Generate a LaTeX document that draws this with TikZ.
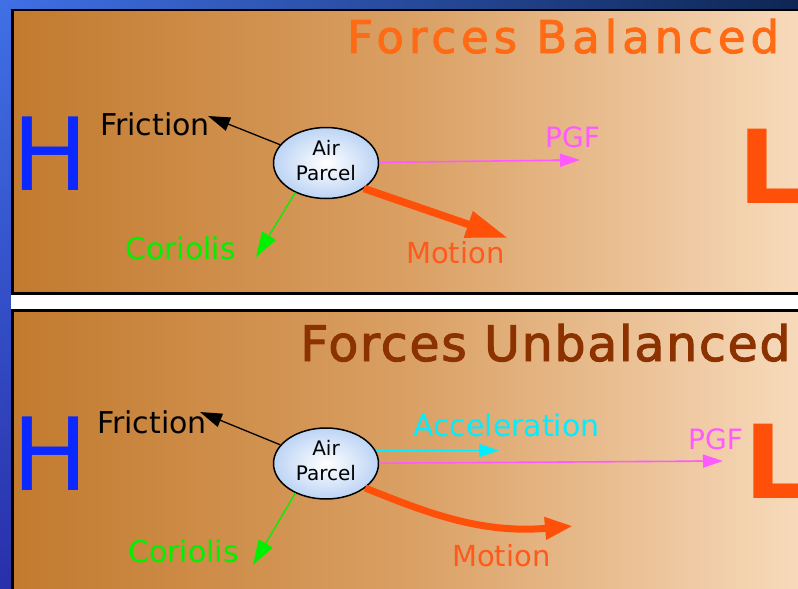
\documentclass[tikz,border=0pt]{standalone}
\usepackage{fontspec}
\setmainfont{DejaVu Sans}
\newfontfamily\titlefontA[LetterSpace=11,FakeBold=2]{DejaVu Sans}
\newfontfamily\titlefontB[LetterSpace=3.5,FakeBold=2]{DejaVu Sans}
\usetikzlibrary{arrows.meta,shapes.geometric,shadings}

\definecolor{bgA}{RGB}{64,112,230}
\definecolor{bgB}{RGB}{40,48,170}
\definecolor{bgC}{RGB}{14,38,84}
\definecolor{bgD}{RGB}{18,30,90}
\definecolor{panleft}{RGB}{194,122,46}
\definecolor{panmid}{RGB}{218,160,100}
\definecolor{panright}{RGB}{248,220,190}
\definecolor{torange}{RGB}{255,106,20}
\definecolor{tbrown}{RGB}{140,50,0}
\definecolor{hblue}{RGB}{10,40,255}
\definecolor{lred}{RGB}{255,80,10}
\definecolor{motlbl}{RGB}{255,90,30}
\definecolor{pgfpink}{RGB}{255,90,255}
\definecolor{acccyan}{RGB}{0,238,255}
\definecolor{corgreen}{RGB}{0,240,0}
\definecolor{parcelblue}{RGB}{188,212,245}

\tikzset{
  panel/.style={draw=black,line width=2.5pt,left color=panleft,right color=panright,middle color=panmid},
  lbl/.style={anchor=base west,inner sep=0pt,font=\fontsize{30}{32}\selectfont},
  bigH/.style={anchor=base west,inner sep=0pt,text=hblue,font=\fontsize{101}{101}\selectfont},
  bigL/.style={anchor=base west,inner sep=0pt,text=lred,font=\bfseries\fontsize{102}{102}\selectfont},
  parcel/.style={ellipse,draw=black,line width=1.5pt,inner sep=0pt,minimum width=105pt,minimum height=71pt,
    inner color=white,outer color=parcelblue,align=center,text depth=6pt,font=\fontsize{20}{25}\selectfont},
  frictionarrow/.style={draw=black,line width=1.3pt,-{Triangle[length=22pt,width=14pt]}},
  corarrow/.style={draw=corgreen,line width=1.3pt,-{Triangle[length=25pt,width=16pt]}},
  pgfarrow/.style={draw=pgfpink,line width=1.6pt,-{Rectangle[length=9pt,width=1.6pt]Triangle[length=20pt,width=13pt]}},
  accarrow/.style={draw=acccyan,line width=1.6pt,-{Rectangle[length=9pt,width=1.6pt]Triangle[length=20pt,width=13pt]}},
  motarrow/.style={draw=lred,line width=7.5pt,-{Triangle[length=42pt,width=26pt]}},
  motcurve/.style={draw=lred,line width=7pt,-{Triangle[length=28pt,width=21pt]}}
}

\begin{document}
\begin{tikzpicture}[x=1pt,y=-1pt]
% slide background and the two panels
\useasboundingbox (0,0) rectangle (798,589);
\clip (0,0) rectangle (798,589);
\shade[upper left=bgA,lower left=bgB,upper right=bgC,lower right=bgD] (0,0) rectangle (798,589);
\fill[white] (11,292) rectangle (798,312);
\shadedraw[panel] (12.5,10) rectangle (812,293.5);
\shadedraw[panel] (12.5,310.5) rectangle (812,600);

% Forces Balanced
\node[lbl,text=torange,font={\titlefontA\fontsize{45}{47}\selectfont}] (title1) at (347,53) {Forces Balanced};
\node[bigH] (h1) at (12,190) {H};
\node[bigL] (l1) at (738,203) {L};
\node[parcel] (parcel1) at (326,163) {Air\\Parcel};
\node[lbl] (fric1) at (100,135) {Friction};
\node[lbl,text=corgreen] (cor1) at (125,259) {Coriolis};
\node[lbl,text=pgfpink,font=\fontsize{28}{30}\selectfont] (pgf1) at (545,147) {PGF};
\node[lbl,text=motlbl,font=\fontsize{29}{31}\selectfont] (mot1) at (406,263) {Motion};
\coordinate (fricend1) at (208,116);
\coordinate (corend1) at (256,257);
\coordinate (pgfend1) at (580,160);
\coordinate (motend1) at (508,238);
\draw[frictionarrow] (parcel1) -- (fricend1);
\draw[corarrow] (parcel1.-136) -- (corend1);
\draw[pgfarrow] (parcel1) -- (pgfend1);
\draw[motarrow] (parcel1.-34) -- (motend1);

% Forces Unbalanced
\node[lbl,text=tbrown,font={\titlefontB\fontsize{49}{51}\selectfont}] (title2) at (300,361) {Forces Unbalanced};
\node[bigH] (h2) at (12,490) {H};
\node[bigL] (l2) at (744,498) {L};
\node[parcel] (parcel2) at (326,463.5) {Air\\Parcel};
\node[lbl] (fric2) at (97,433) {Friction};
\node[lbl,text=corgreen] (cor2) at (128,562) {Coriolis};
\node[lbl,text=acccyan] (acc2) at (413,436) {Acceleration};
\node[lbl,text=pgfpink,font=\fontsize{28}{30}\selectfont] (pgf2) at (688,449) {PGF};
\node[lbl,text=motlbl,font=\fontsize{29}{31}\selectfont] (mot2) at (452,566) {Motion};
\coordinate (fricend2) at (200,412);
\coordinate (corend2) at (253,565);
\coordinate (accend2) at (499,450.5);
\coordinate (pgfend2) at (723,461);
\coordinate (motend2) at (573,526);
\draw[frictionarrow] (parcel2) -- (fricend2);
\draw[corarrow] (parcel2.-136) -- (corend2);
\draw[accarrow] (parcel2.15 |- accend2) -- (accend2);
\draw[pgfarrow] (parcel2) -- (pgfend2);
\draw[motcurve] (parcel2.-32) .. controls (425,512) and (480,534) .. (motend2);
\end{tikzpicture}
\end{document}
